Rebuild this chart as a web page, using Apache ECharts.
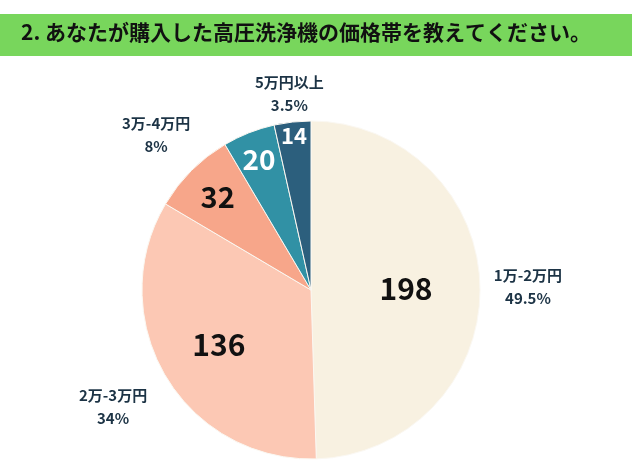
<!DOCTYPE html>
<html>
<head>
<meta charset="utf-8">
<script src="https://cdn.jsdelivr.net/npm/echarts@6/dist/echarts.min.js"></script>
<style>
  html, body { margin: 0; padding: 0; background: #fff; }
  #chart { width: 632px; height: 474px; }
</style>
</head>
<body>
<div id="chart"></div>
<script>
const TITLE = "2. あなたが購入した高圧洗浄機の価格帯を教えてください。";
const CATEGORIES = ["1万-2万円", "2万-3万円", "3万-4万円", "4万-5万円", "5万円以上"];
const COUNTS = [198, 136, 32, 20, 14];
const PERCENTS = ["49.5%", "34%", "8%", "5%", "3.5%"];
const SHOW_OUTER = [true, true, true, false, true];
const COLORS = ["#f8f1e1", "#fcc8b4", "#f7a68a", "#3191a5", "#2c5f7d"];

const FONT = "'Noto Sans CJK JP', 'Noto Sans', sans-serif";
const CENTER = [311, 290];
const RADIUS = 169;

// inner number: distance from centre, colour, size
const INNER = [
  { d: 92, color: "#111", size: 30 },
  { d: 104, color: "#111", size: 30 },
  { d: 129, color: "#111", size: 29 },
  { d: 138, color: "#fff", size: 28 },
  { d: 152, color: "#fff", size: 22 }
];
const OUTER_D = [214, 227, 216, 0, 194];

const chart = echarts.init(document.getElementById("chart"));

const baseData = () => COUNTS.map((value, i) => ({ value, name: CATEGORIES[i] }));

// transparent pie used only to place one label along its slice's mid angle
function labelSeries(index, dist, label) {
  return {
    type: "pie",
    silent: true,
    animation: false,
    center: CENTER,
    radius: [0, dist * 2],
    startAngle: 90,
    minShowLabelAngle: 0,
    itemStyle: { color: "transparent", borderWidth: 0 },
    emphasis: { disabled: true },
    labelLine: { show: false },
    label: Object.assign({ show: false, position: "inside", fontFamily: FONT, fontWeight: "bold" }, label),
    data: baseData().map((item, i) => Object.assign(item, { label: { show: i === index } }))
  };
}

const series = [{
  type: "pie",
  silent: true,
  animation: false,
  center: CENTER,
  radius: [0, RADIUS],
  startAngle: 90,
  label: { show: false },
  labelLine: { show: false },
  itemStyle: { borderColor: "#fbf8f2", borderWidth: 1 },
  data: baseData().map((item, i) => Object.assign(item, { itemStyle: { color: COLORS[i] } }))
}];

INNER.forEach((s, i) => {
  series.push(labelSeries(i, s.d, {
    color: s.color,
    fontSize: s.size,
    formatter: (p) => String(p.value)
  }));
});

OUTER_D.forEach((d, i) => {
  if (!SHOW_OUTER[i]) return;
  series.push(labelSeries(i, d, {
    color: "#1c3345",
    fontSize: 15,
    lineHeight: 23,
    align: "center",
    formatter: (p) => `${p.name}\n${PERCENTS[p.dataIndex]}`
  }));
});

chart.setOption({
  backgroundColor: "#fff",
  animation: false,
  graphic: [{
    type: "rect",
    shape: { x: 0, y: 14, width: 632, height: 42 },
    style: { fill: "#78d65c" },
    z: 0
  }],
  title: {
    text: TITLE,
    left: 21,
    top: 22,
    padding: 0,
    textStyle: { fontFamily: FONT, fontWeight: "bold", fontSize: 21, color: "#111" }
  },
  series
});
</script>
</body>
</html>
